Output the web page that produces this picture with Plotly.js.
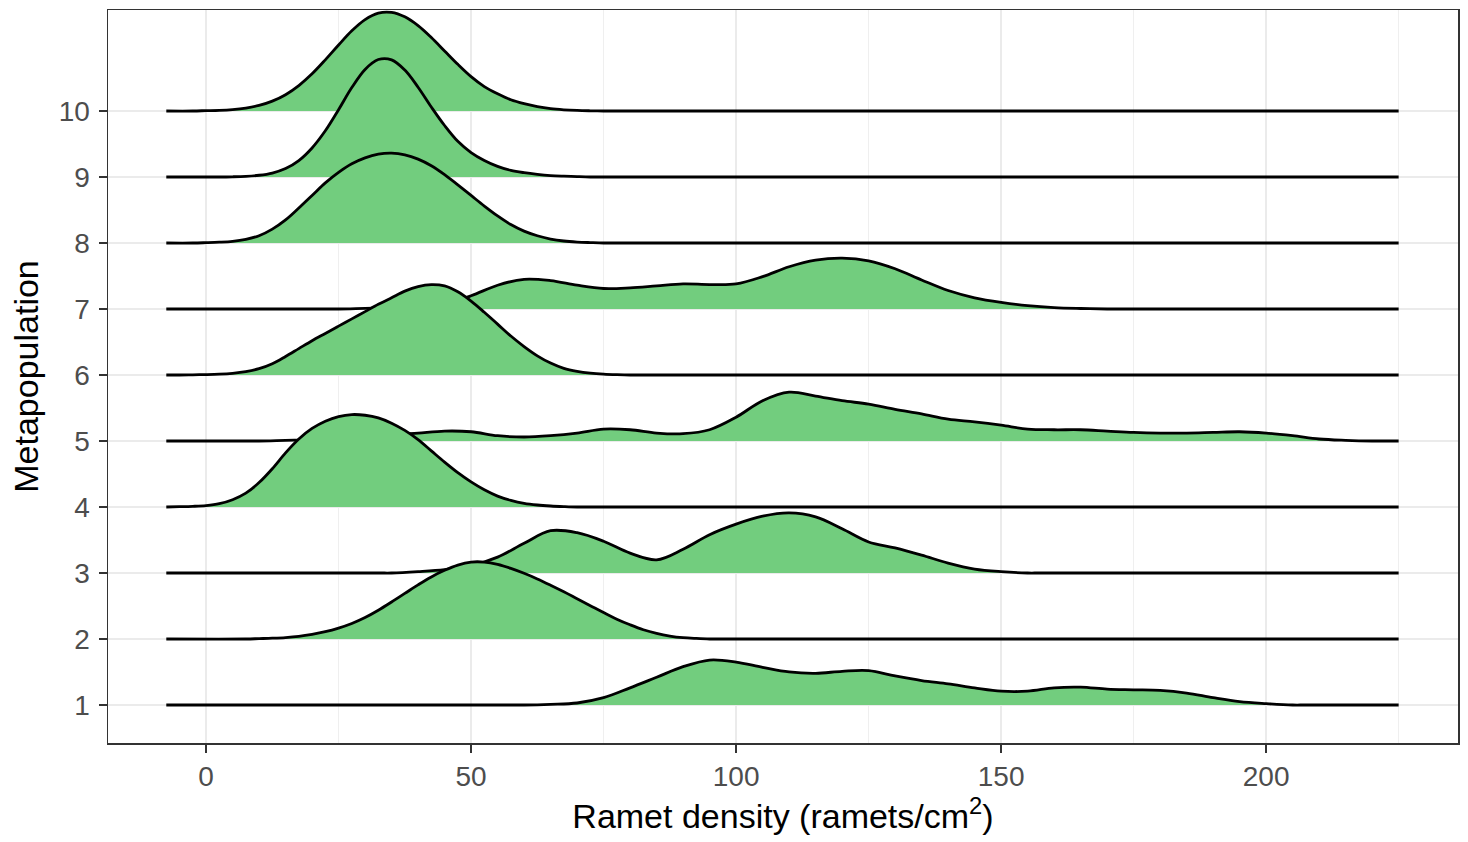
<!DOCTYPE html>
<html><head><meta charset="utf-8">
<script src="https://cdn.plot.ly/plotly-3.0.1.min.js"></script>
<style>html,body{margin:0;padding:0;background:#fff}#chart{width:1468px;height:842px}</style>
</head><body><div id="chart"></div>
<script>
// Metapopulation categories (y axis) and x tick labels
const metapopulations = [1, 2, 3, 4, 5, 6, 7, 8, 9, 10];
const xTickVals = [0, 50, 100, 150, 200];
const ridgeStart = -7.5, ridgeEnd = 225;

// Scaled density heights (in y-axis units above each baseline)
const x1 = [60,65,70,75,80,85,90,95,100,105,110,115,120,125,130,135,140,145,150,155,160,165,170,175,180,185,190,195,200,205];
const h1 = [0,0.01,0.03,0.11,0.26,0.42,0.58,0.68,0.65,0.57,0.50,0.48,0.51,0.52,0.44,0.37,0.32,0.26,0.21,0.21,0.26,0.27,0.24,0.23,0.22,0.18,0.11,0.05,0.02,0];

const x2 = [10,12.5,15,17.5,20,22.5,25,27.5,30,32.5,35,37.5,40,42.5,45,47.5,50,52.5,55,57.5,60,62.5,65,67.5,70,72.5,75,77.5,80,82.5,85,87.5,90,92.5,95];
const h2 = [0.006,0.012,0.022,0.04,0.07,0.11,0.165,0.235,0.325,0.435,0.56,0.69,0.82,0.94,1.04,1.12,1.165,1.165,1.13,1.07,0.995,0.91,0.815,0.715,0.61,0.505,0.40,0.30,0.215,0.14,0.085,0.045,0.02,0.008,0];

const x3 = [35,40,45,50,55,60,65,70,75,80,85,90,95,100,105,110,115,120,125,130,135,140,145,150,155];
const h3 = [0,0.02,0.05,0.11,0.24,0.45,0.64,0.61,0.48,0.30,0.20,0.36,0.58,0.74,0.86,0.91,0.85,0.67,0.47,0.38,0.27,0.15,0.06,0.02,0];

const x4 = [-5,-2.5,0,2.5,5,7.5,10,12.5,15,17.5,20,22.5,25,27.5,30,32.5,35,37.5,40,42.5,45,47.5,50,52.5,55,57.5,60,62.5,65,67.5,70];
const h4 = [0.004,0.01,0.022,0.05,0.11,0.21,0.37,0.58,0.82,1.03,1.19,1.30,1.37,1.40,1.39,1.35,1.27,1.16,1.02,0.85,0.68,0.52,0.38,0.26,0.165,0.10,0.055,0.03,0.015,0.006,0];

const x5 = [10,15,20,25,30,35,40,45,50,55,60,65,70,75,80,85,90,95,100,105,110,115,120,125,130,135,140,145,150,155,160,165,170,175,180,185,190,195,200,205,210,215,220];
const h5 = [0,0.01,0.02,0.05,0.07,0.09,0.12,0.15,0.14,0.08,0.06,0.08,0.12,0.18,0.17,0.12,0.11,0.17,0.36,0.61,0.74,0.68,0.61,0.56,0.48,0.41,0.33,0.29,0.24,0.18,0.17,0.17,0.15,0.13,0.12,0.12,0.13,0.14,0.12,0.08,0.03,0.01,0];

const x6 = [-5,-2.5,0,2.5,5,7.5,10,12.5,15,17.5,20,22.5,25,27.5,30,32.5,35,37.5,40,42.5,45,47.5,50,52.5,55,57.5,60,62.5,65,67.5,70,72.5,75,77.5,80];
const h6 = [0,0.003,0.006,0.012,0.025,0.05,0.095,0.17,0.28,0.40,0.52,0.63,0.74,0.85,0.96,1.07,1.17,1.27,1.34,1.37,1.35,1.26,1.12,0.95,0.77,0.59,0.43,0.29,0.18,0.10,0.055,0.028,0.013,0.005,0];

const x7 = [25,30,35,40,45,50,55,60,65,70,75,80,85,90,95,100,105,110,115,120,125,130,135,140,145,150,155,160,165,170];
const h7 = [0,0.01,0.02,0.04,0.08,0.20,0.36,0.45,0.43,0.36,0.31,0.32,0.35,0.38,0.37,0.38,0.49,0.64,0.74,0.77,0.73,0.61,0.44,0.28,0.17,0.10,0.05,0.02,0.007,0];

const x8 = [0,2.5,5,7.5,10,12.5,15,17.5,20,22.5,25,27.5,30,32.5,35,37.5,40,42.5,45,47.5,50,52.5,55,57.5,60,62.5,65,67.5,70,72.5,75];
const h8 = [0.005,0.012,0.025,0.055,0.11,0.21,0.35,0.53,0.72,0.91,1.07,1.20,1.29,1.345,1.36,1.335,1.27,1.17,1.035,0.88,0.72,0.56,0.41,0.28,0.18,0.11,0.06,0.03,0.014,0.006,0];

const x9 = [5,7.5,10,12.5,15,17.5,20,22.5,25,27.5,30,32.5,35,37.5,40,42.5,45,47.5,50,52.5,55,57.5,60,62.5,65,67.5,70,72.5];
const h9 = [0.003,0.01,0.026,0.06,0.128,0.249,0.44,0.70,1.02,1.355,1.63,1.78,1.775,1.62,1.36,1.06,0.78,0.54,0.37,0.25,0.16,0.10,0.065,0.04,0.022,0.012,0.005,0];

const x10 = [0,2.5,5,7.5,10,12.5,15,17.5,20,22.5,25,27.5,30,32.5,35,37.5,40,42.5,45,47.5,50,52.5,55,57.5,60,62.5,65,67.5,70,72.5,75];
const h10 = [0.005,0.01,0.022,0.045,0.084,0.149,0.247,0.385,0.563,0.775,1.00,1.215,1.385,1.483,1.494,1.426,1.293,1.113,0.91,0.707,0.521,0.37,0.26,0.17,0.11,0.065,0.035,0.018,0.008,0.003,0];

const ridgeX = [x1,x2,x3,x4,x5,x6,x7,x8,x9,x10];
const ridgeH = [h1,h2,h3,h4,h5,h6,h7,h8,h9,h10];

const FILL = '#72CD7E';
const FONT = 'Liberation Sans, Arial, Helvetica, sans-serif';

const traces = [];
// draw top ridge first so lower ridges overlap it
for (let k = metapopulations.length - 1; k >= 0; k--) {
  const base = metapopulations[k];
  const xs = ridgeX[k], hs = ridgeH[k];
  const top = hs.map(h => base + h);
  traces.push({x: xs, y: xs.map(() => base), type: 'scatter', mode: 'lines',
    line: {width: 0, color: 'rgba(0,0,0,0)'}, hoverinfo: 'skip', showlegend: false});
  traces.push({x: xs, y: top, type: 'scatter', mode: 'lines', fill: 'tonexty',
    fillcolor: FILL, line: {width: 0, shape: 'spline', smoothing: 1, color: 'rgba(0,0,0,0)'},
    hoverinfo: 'skip', showlegend: false});
  // outline: flat baseline outside the density, padded so the spline stays flat
  const ox = [], oy = [];
  ox.push(ridgeStart); oy.push(base);
  if (xs[0] - 2.5 > ridgeStart) { ox.push(xs[0] - 2.5); oy.push(base); }
  for (let j = 0; j < xs.length; j++) { if (xs[j] > ridgeStart) { ox.push(xs[j]); oy.push(top[j]); } }
  const last = xs[xs.length - 1];
  if (last + 2.5 < ridgeEnd) { ox.push(last + 2.5); oy.push(base); }
  ox.push(ridgeEnd); oy.push(base);
  traces.push({x: ox, y: oy, type: 'scatter', mode: 'lines',
    line: {width: 2.8, color: '#000', shape: 'spline', smoothing: 1},
    hoverinfo: 'skip', showlegend: false});
}

const layout = {
  width: 1468, height: 842,
  margin: {l: 108, r: 10, t: 10, b: 99},
  paper_bgcolor: '#fff', plot_bgcolor: '#fff',
  showlegend: false,
  font: {family: FONT},
  xaxis: {
    range: [-18.5, 236.2], tickmode: 'array', tickvals: xTickVals, ticktext: xTickVals.map(String),
    ticks: 'outside', ticklen: 8, tickwidth: 2, tickcolor: '#333',
    tickfont: {size: 28, color: '#4D4D4D', family: FONT},
    showgrid: true, gridcolor: '#EBEBEB', gridwidth: 2,
    minor: {tickvals: [-25, 25, 75, 125, 175, 225], showgrid: true, gridcolor: '#EFEFEF', gridwidth: 1, ticks: ''},
    zeroline: false, showline: true, mirror: true, linecolor: '#333', linewidth: 1.5,
    title: {text: 'Ramet density (ramets/cm<sup>2</sup>)', font: {size: 34, color: '#000', family: FONT}, standoff: 12}
  },
  yaxis: {
    range: [0.424, 11.53], tickmode: 'array', tickvals: metapopulations, ticktext: metapopulations.map(String),
    ticks: 'outside', ticklen: 8, tickwidth: 2, tickcolor: '#333', ticklabelstandoff: 3,
    tickfont: {size: 28, color: '#4D4D4D', family: FONT},
    showgrid: true, gridcolor: '#EBEBEB', gridwidth: 2,
    zeroline: false, showline: true, mirror: true, linecolor: '#333', linewidth: 1.5,
    title: {text: 'Metapopulation', font: {size: 34, color: '#000', family: FONT}, standoff: 10}
  }
};

Plotly.newPlot('chart', traces, layout, {staticPlot: true, displayModeBar: false});
</script>
</body></html>
